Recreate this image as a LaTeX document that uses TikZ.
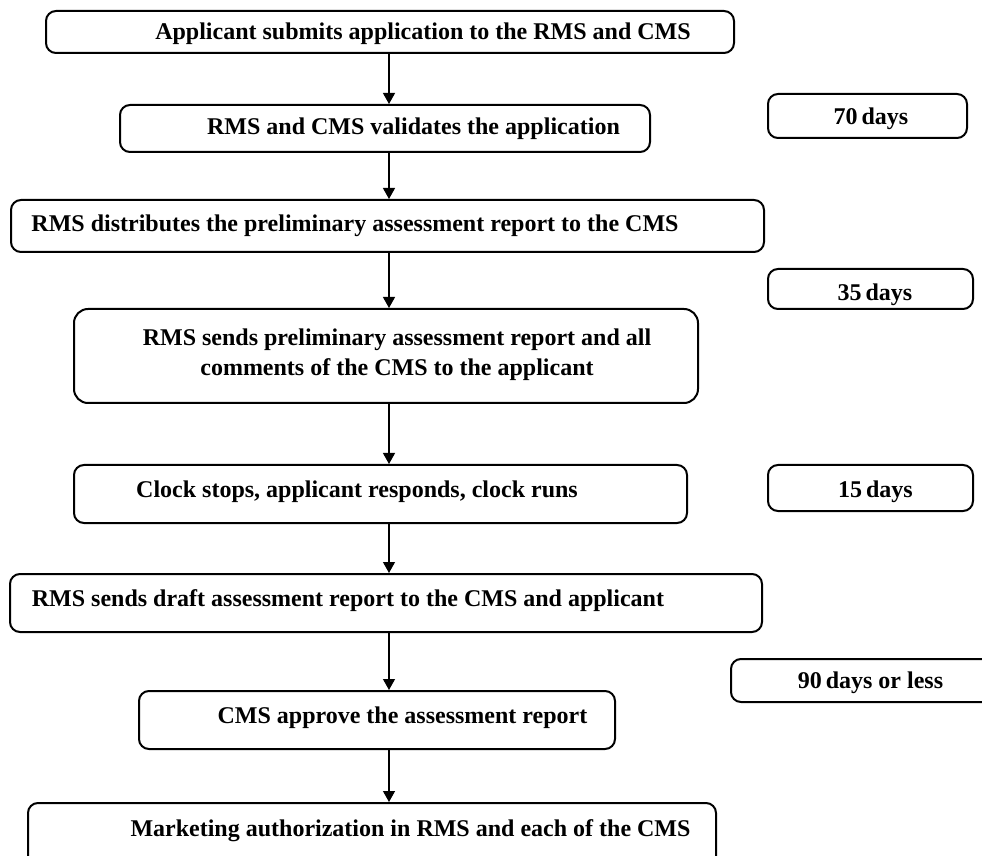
\documentclass[tikz,border=0pt]{standalone}
\usepackage{fontspec}
\setmainfont{Liberation Serif}
\usetikzlibrary{arrows.meta}

\begin{document}
\begin{tikzpicture}[x=0.5pt, y=-0.5pt,
  box/.style={draw, line width=1pt, rounded corners=5pt, inner sep=0pt},
  txt/.style={anchor=base, inner sep=0pt, font=\fontsize{12}{15}\selectfont\bfseries},
  arr/.style={-{Triangle[length=5.5pt,width=6pt]}, line width=0.65pt}]

\useasboundingbox (0,0) rectangle (982,856);
\clip (0,0) rectangle (982,856);

% Main procedure boxes
\node[box, minimum width=344pt, minimum height=21pt] (b1) at (390,32) {};
\node[txt] (t1) at (423,40) {Applicant submits application to the RMS and CMS};

\node[box, minimum width=265pt, minimum height=23.5pt] (b2) at (385,128.5) {};
\node[txt] (t2) at (413.5,135) {RMS and CMS validates the application};

\node[box, minimum width=376.5pt, minimum height=26pt] (b3) at (387.5,226) {};
\node[txt] (t3) at (355,232) {RMS distributes the preliminary assessment report to the CMS};

\node[box, minimum width=312pt, minimum height=47pt, rounded corners=7pt] (b4) at (386,356) {};
\node[txt, anchor=center, align=center] (t4) at (397,354.5) {RMS sends preliminary assessment report and all\\comments of the CMS to the applicant};

\node[box, minimum width=306.5pt, minimum height=29pt] (b5) at (380.5,494) {};
\node[txt] (t5) at (357,497) {Clock stops, applicant responds, clock runs};

\node[box, minimum width=376pt, minimum height=29pt] (b6) at (386,603) {};
\node[txt] (t6) at (348,606) {RMS sends draft assessment report to the CMS and applicant};

\node[box, minimum width=238pt, minimum height=29pt] (b7) at (377,720) {};
\node[txt] (t7) at (402.5,723) {CMS approve the assessment report};

\node[box, minimum width=344pt, minimum height=38.5pt] (b8) at (372,841.5) {};
\node[txt] (t8) at (410.5,836) {Marketing authorization in RMS and each of the CMS};

% Time boxes on the right
\node[box, minimum width=99.5pt, minimum height=22pt] (d70) at (867.5,116) {};
\node[txt] (t70) at (871,125) {70\,days};

\node[box, minimum width=102.5pt, minimum height=20pt] (d35) at (870.5,289) {};
\node[txt] (t35) at (875,300) {35\,days};

\node[box, minimum width=102.5pt, minimum height=23pt] (d15) at (870.5,488) {};
\node[txt] (t15) at (875.5,497) {15\,days};

\node[box, minimum width=139.5pt, minimum height=21.5pt] (d90) at (870.5,680.5) {};
\node[txt] (t90) at (870.5,689) {90\,days or less};

% Arrows down the middle
\coordinate (spine) at (389,0);
\draw[arr] (b1.south -| spine) -- (b2.north -| spine);
\draw[arr] (b2.south -| spine) -- (b3.north -| spine);
\draw[arr] (b3.south -| spine) -- (b4.north -| spine);
\draw[arr] (b4.south -| spine) -- (b5.north -| spine);
\draw[arr] (b5.south -| spine) -- (b6.north -| spine);
\draw[arr] (b6.south -| spine) -- (b7.north -| spine);
\draw[arr] (b7.south -| spine) -- (b8.north -| spine);

\end{tikzpicture}
\end{document}
